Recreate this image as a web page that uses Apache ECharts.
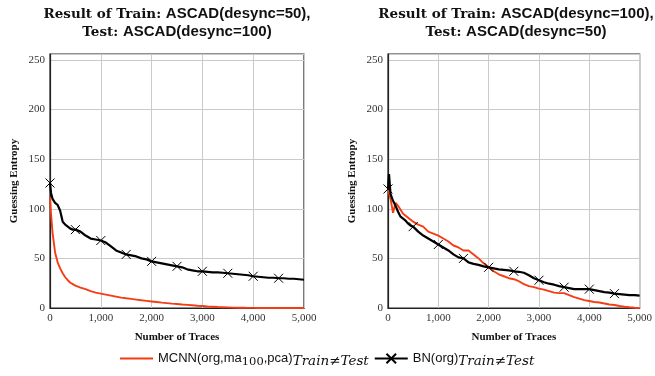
<!DOCTYPE html>
<html>
<head>
<meta charset="utf-8">
<script src="https://cdn.jsdelivr.net/npm/echarts@6/dist/echarts.min.js"></script>
<style>
html,body{margin:0;padding:0;background:#fff;}
#chart{width:655px;height:376px;}
</style>
</head>
<body>
<div id="chart"></div>
<script>
// ---- data ----
var traces = [0,20,50,100,150,200,250,300,350,400,450,500,
  600,700,800,900,1000,1100,1200,1300,1400,1500,1600,1700,1800,1900,2000,
  2100,2200,2300,2400,2500,2600,2700,2800,2900,3000,3100,3200,3300,3400,3500,
  3600,3700,3800,3900,4000,4100,4200,4300,4400,4500,4600,4700,4800,4900,5000];

// Left: Train desync=50, Test desync=100
var leftMCNN = [112,95,76,56,46,40,35,31,28,25.5,24,22.5,
  20.5,19,17,15.5,14.5,13.5,12.5,11.5,10.5,9.8,9.2,8.5,7.8,7.2,6.6,
  6,5.4,4.9,4.4,4,3.5,3.1,2.7,2.3,2,1.6,1.3,1,0.8,0.6,
  0.4,0.3,0.2,0.1,0.1,0,0,0,0,0,0,0,0,0,0];
var leftBN = [126,116,110,106,104,98,87,84,82,80,79,79,
  77,73,70,69,68,66,62,58,56,54,53,52,50,49,47,
  46,45,44,43,42,41,39,38,37,37,36.5,36,36,35.5,35,
  34.5,34,33.5,33,32,31.5,31,30.5,30.5,30,30,29.5,29.5,29,28.5];

// Right: Train desync=100, Test desync=50
var rightMCNN = [125,116,110,96,106,103,99,95,93,91,89,87,
  84,82,77,75,73,70,67,63,61,58,58,54,50,45,41,
  37,34,32,30,29,27,24,22,21,19.5,18.5,17,15.5,15,15,
  13,11,9.5,8,7,6,5.5,4.5,3.5,3,2,1.2,0.7,0.3,0];
var rightBN = [120,135,115,108,103,97,92,90,88,85,83,82,
  77,73,70,67,64,61,58,54,51,50,46,44.5,43.5,42,41,
  40,39,38.5,38,37,36.5,35.5,33,30,28,26,24.5,23.5,22,21,
  20,19,19,19,19,18,17,16,15.5,14.5,14,13.5,13,13,12.5];

var markerTraces = [0,500,1000,1500,2000,2500,3000,3500,4000,4500];

var titleLeft = ['Result of Train: ', 'ASCAD(desync=50),', 'Test: ', 'ASCAD(desync=100)'];
var titleRight = ['Result of Train: ', 'ASCAD(desync=100),', 'Test: ', 'ASCAD(desync=50)'];

// ---- build ----
var RED = '#f43d15';
var X_PATH = 'path://M0,0L10,10M0,10L10,0';
var FLAT_PATH = 'path://M0,0L30,0L30,2L0,2Z';

function mcnnData(vals){ return traces.map(function(t,i){ return [t, vals[i]]; }); }
function bnData(vals){
  return traces.map(function(t,i){
    if (markerTraces.indexOf(t) >= 0) return {value:[t, vals[i]]};
    return {value:[t, vals[i]], symbol:'none'};
  });
}

var serifBold = {fontFamily:'Liberation Serif', fontWeight:'bold', fontSize:11, color:'#111'};
function fmtThousands(v){ return v >= 1000 ? Math.floor(v/1000) + ',' + ('00' + (v%1000)).slice(-3) : String(v); }

function xAxis(idx){
  return {
    gridIndex: idx, type:'value', min:0, max:5000, interval:1000,
    name:'Number of Traces', nameLocation:'middle', nameGap:24,
    nameTextStyle: serifBold,
    axisLine:{show:true, lineStyle:{color:'#222', width:1.2}},
    axisTick:{show:false},
    axisLabel:{fontFamily:'Liberation Serif', fontSize:11, color:'#333', margin:5, formatter: fmtThousands},
    splitLine:{show:true, lineStyle:{color:'#cacaca', width:1}}
  };
}
function yAxis(idx){
  return {
    gridIndex: idx, type:'value', min:0, max:256, interval:50,
    name:'Guessing Entropy', nameLocation:'middle', nameGap:30, nameRotate:90,
    nameTextStyle: serifBold,
    axisLine:{show:true, lineStyle:{color:'#222', width:1.2}},
    axisTick:{show:false},
    axisLabel:{fontFamily:'Liberation Serif', fontSize:11, color:'#333', margin:5, showMaxLabel:false},
    splitLine:{show:true, lineStyle:{color:'#cacaca', width:1}}
  };
}

function mcnnSeries(idx, vals){
  return {name:'MCNN', type:'line', xAxisIndex:idx, yAxisIndex:idx, data:mcnnData(vals),
    symbol:'none', lineStyle:{color:RED, width:1.9}, itemStyle:{color:RED}, z:2, animation:false};
}
function bnSeries(idx, vals){
  return {name:'BN', type:'line', xAxisIndex:idx, yAxisIndex:idx, data:bnData(vals),
    symbol:X_PATH, symbolSize:9, showSymbol:true,
    lineStyle:{color:'#000', width:2.2},
    itemStyle:{color:'#000', borderColor:'#000', borderWidth:1}, z:3, animation:false};
}

function titleText(parts){
  return '{s|' + parts[0] + '}{a|' + parts[1] + '}\n{s|' + parts[2] + '}{a|' + parts[3] + '}';
}
var titleRich = {
  s:{fontFamily:'DejaVu Serif', fontWeight:'bold', fontSize:13.5, lineHeight:18, fill:'#111'},
  a:{fontFamily:'Liberation Sans', fontWeight:'bold', fontSize:15, lineHeight:18, fill:'#111'}
};

var chart = echarts.init(document.getElementById('chart'), null, {renderer:'canvas'});
chart.setOption({
  backgroundColor:'#fff',
  animation:false,
  grid:[
    {left:50, width:254, top:54, bottom:68, show:true, borderColor:'#222', borderWidth:1.2, backgroundColor:'transparent'},
    {left:388, width:254, top:54, bottom:68, show:true, borderColor:'#222', borderWidth:1.2, backgroundColor:'transparent'}
  ],
  xAxis:[xAxis(0), xAxis(1)],
  yAxis:[yAxis(0), yAxis(1)],
  legend:{
    left:115, top:347, itemWidth:33, itemHeight:12, itemGap:5,
    data:[{name:'MCNN', icon:FLAT_PATH},{name:'BN'}],
    formatter:function(name){
      if (name === 'MCNN') return '{t|MCNN(org,ma}{n|100}{t|,pca)}{i|Train≠Test}';
      return '{t|BN(org)}{i|Train≠Test}';
    },
    textStyle:{
      rich:{
        t:{fontFamily:'Liberation Sans', fontSize:13, color:'#111', lineHeight:20, verticalAlign:'middle'},
        n:{fontFamily:'DejaVu Serif', fontSize:11.5, color:'#111', lineHeight:10, verticalAlign:'bottom'},
        i:{fontFamily:'DejaVu Serif', fontStyle:'italic', fontSize:13.5, color:'#111', lineHeight:10, verticalAlign:'bottom'}
      }
    }
  },
  graphic:[
    {type:'text', x:177, y:5, style:{text:titleText(titleLeft), rich:titleRich, align:'center', fill:'#111'}},
    {type:'text', x:516, y:5, style:{text:titleText(titleRight), rich:titleRich, align:'center', fill:'#111'}}
  ],
  series:[mcnnSeries(0, leftMCNN), bnSeries(0, leftBN), mcnnSeries(1, rightMCNN), bnSeries(1, rightBN)]
});
</script>
</body>
</html>
